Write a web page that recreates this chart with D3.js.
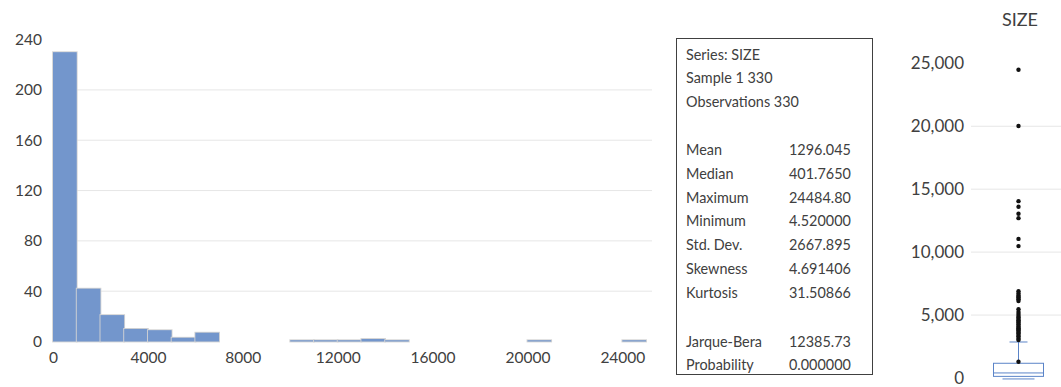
<!DOCTYPE html>
<html>
<head>
<meta charset="utf-8">
<script src="https://cdn.jsdelivr.net/npm/d3@7"></script>
<style>
  html, body { margin: 0; padding: 0; background: #fff; }
  svg { display: block; }
  text { font-family: Lato, "Open Sans", sans-serif; fill: #404040; }
</style>
</head>
<body>
<svg id="chart" width="1061" height="387"></svg>
<script>
// Histogram of SIZE: bins of width 1000, counts per bin
const binStarts = [0, 1000, 2000, 3000, 4000, 5000, 6000, 10000, 11000, 12000, 13000, 14000, 20000, 24000];
const binCounts = [230, 42, 21, 10, 9, 3, 7, 1, 1, 1, 2, 1, 1, 1];
const histXTicks = [0, 4000, 8000, 12000, 16000, 20000, 24000];
const histYTicks = [0, 40, 80, 120, 160, 200, 240];

// Descriptive statistics panel
const statHeader = ["Series: SIZE", "Sample 1 330", "Observations 330"];
const statNames = ["Mean", "Median", "Maximum", "Minimum", "Std. Dev.", "Skewness", "Kurtosis"];
const statValues = ["1296.045", "401.7650", "24484.80", "4.520000", "2667.895", "4.691406", "31.50866"];
const testNames = ["Jarque-Bera", "Probability"];
const testValues = ["12385.73", "0.000000"];

// Box plot of SIZE
const boxMin = 4.52;
const boxQ1 = 130;
const boxMedian = 401.765;
const boxQ3 = 1170;
const boxWhiskerHigh = 2860;
const boxMean = 1296.045;
const boxOutliers = [3020, 3110, 3280, 3340, 3490, 3570, 3660, 3780, 3850, 3960,
  4050, 4130, 4270, 4390, 4460, 4580, 4690, 4810, 4930,
  5080, 5240, 5470,
  6120, 6250, 6380, 6440, 6560, 6710, 6890,
  10480, 11050, 12700, 13050, 13600, 14050, 20020, 24484.8];
const boxTicks = [0, 5000, 10000, 15000, 20000, 25000];

const svg = d3.select("#chart");

// ---------- Histogram ----------
const hx = d3.scaleLinear().domain([0, 25250]).range([53, 652]);
const hy = d3.scaleLinear().domain([0, 240]).range([341.5, 39.6]);

const hist = svg.append("g");
hist.append("g")
  .selectAll("line")
  .data(histYTicks.filter(d => d > 0 && d < 240))
  .join("line")
  .attr("x1", hx.range()[0]).attr("x2", hx.range()[1])
  .attr("y1", d => hy(d)).attr("y2", d => hy(d))
  .attr("stroke", "#e6e6e6").attr("stroke-width", 1);

// bars: outline painted beneath the fill so thin bars keep their colour
hist.append("g")
  .selectAll("rect")
  .data(binStarts.map((s, i) => ({ s, c: binCounts[i] })))
  .join("rect")
  .attr("x", d => hx(d.s))
  .attr("width", d => hx(d.s + 1000) - hx(d.s))
  .attr("y", d => hy(d.c))
  .attr("height", d => hy(0) - hy(d.c))
  .attr("fill", "#7396cc")
  .attr("stroke", "#d4d4d4")
  .attr("stroke-width", 1.8)
  .style("paint-order", "stroke");

const hxAxis = hist.append("g")
  .attr("transform", `translate(0,${hy(0)})`)
  .call(d3.axisBottom(hx).tickValues(histXTicks).tickFormat(d3.format("d")).tickSize(0).tickPadding(10));
hxAxis.select(".domain").remove();
hxAxis.selectAll("text").attr("font-size", 15.5).attr("fill", "#404040").style("font-family", "Lato, sans-serif");

const hyAxis = hist.append("g")
  .attr("transform", `translate(42,0)`)
  .call(d3.axisLeft(hy).tickValues(histYTicks).tickFormat(d3.format("d")).tickSize(0).tickPadding(0));
hyAxis.select(".domain").remove();
hyAxis.selectAll("text").attr("font-size", 15.5).attr("fill", "#404040").style("font-family", "Lato, sans-serif");

// ---------- Statistics panel ----------
const panel = svg.append("g");
panel.append("rect")
  .attr("x", 676.5).attr("y", 38.5).attr("width", 196).attr("height", 336)
  .attr("fill", "none").attr("stroke", "#404040").attr("stroke-width", 1);

const fs = 14.4;
const lineH = 23.8;
statHeader.forEach((t, i) => {
  panel.append("text").attr("x", 686).attr("y", 55 + i * 23.4).attr("dy", "0.35em")
    .attr("font-size", fs).text(t);
});
statNames.forEach((t, i) => {
  const y = 150 + i * lineH;
  panel.append("text").attr("x", 686).attr("y", y).attr("dy", "0.35em").attr("font-size", fs).text(t);
  panel.append("text").attr("x", 789).attr("y", y).attr("dy", "0.35em").attr("font-size", fs).text(statValues[i]);
});
testNames.forEach((t, i) => {
  const y = 341.7 + i * 23.4;
  panel.append("text").attr("x", 686).attr("y", y).attr("dy", "0.35em").attr("font-size", fs).text(t);
  panel.append("text").attr("x", 789).attr("y", y).attr("dy", "0.35em").attr("font-size", fs).text(testValues[i]);
});

// ---------- Box plot ----------
const by = d3.scaleLinear().domain([0, 25000]).range([378, 63.3]);
const bx = 1018.5;
const box = svg.append("g");

box.append("text").attr("x", 1020).attr("y", 20).attr("dy", "0.35em")
  .attr("text-anchor", "middle").attr("font-size", 18).attr("fill", "#262626").text("SIZE");

box.append("g")
  .selectAll("line")
  .data(boxTicks.filter(d => d > 0 && d < 25000))
  .join("line")
  .attr("x1", 971).attr("x2", 1061)
  .attr("y1", d => by(d)).attr("y2", d => by(d))
  .attr("stroke", "#e6e6e6");

const byAxis = box.append("g")
  .attr("transform", "translate(964,0)")
  .call(d3.axisLeft(by).tickValues(boxTicks).tickFormat(d3.format(",")).tickSize(0).tickPadding(0));
byAxis.select(".domain").remove();
byAxis.selectAll("text").attr("font-size", 17).attr("fill", "#404040").style("font-family", "Lato, sans-serif");

const boxColor = "#5b84c8";
// whiskers
box.append("line").attr("x1", bx).attr("x2", bx)
  .attr("y1", by(boxQ3)).attr("y2", by(boxWhiskerHigh)).attr("stroke", boxColor);
box.append("line").attr("x1", bx - 9).attr("x2", bx + 9)
  .attr("y1", by(boxWhiskerHigh)).attr("y2", by(boxWhiskerHigh)).attr("stroke", boxColor);
box.append("line").attr("x1", bx - 16).attr("x2", bx + 16)
  .attr("y1", by(boxMin) + 1).attr("y2", by(boxMin) + 1).attr("stroke", boxColor);
// box
box.append("rect").attr("x", 993.5).attr("width", 50)
  .attr("y", by(boxQ3)).attr("height", by(boxQ1) - by(boxQ3))
  .attr("fill", "#fff").attr("stroke", boxColor);
box.append("line").attr("x1", 993.5).attr("x2", 1043.5)
  .attr("y1", by(boxMedian)).attr("y2", by(boxMedian)).attr("stroke", boxColor);

// outliers
box.append("g")
  .selectAll("circle")
  .data(boxOutliers)
  .join("circle")
  .attr("cx", bx).attr("cy", d => by(d)).attr("r", 2.2)
  .attr("fill", "#111");
// mean marker
box.append("circle").attr("cx", bx).attr("cy", by(boxMean)).attr("r", 2.2).attr("fill", "#111");
</script>
</body>
</html>
